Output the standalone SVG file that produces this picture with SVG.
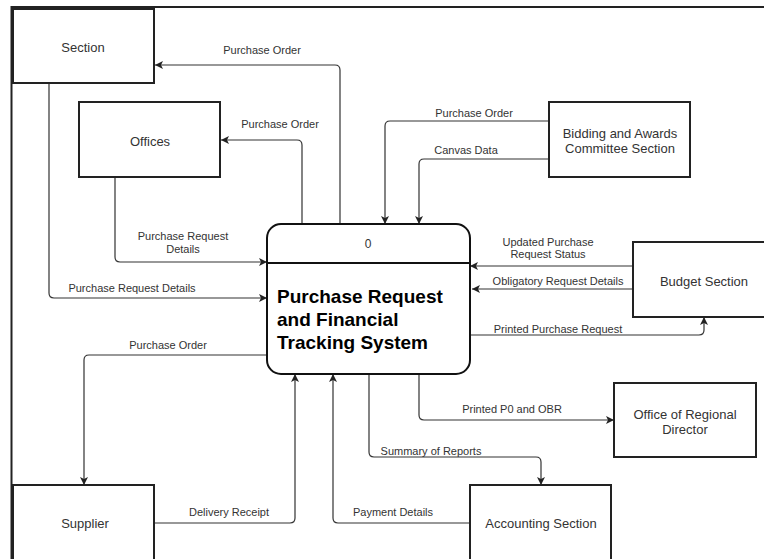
<svg xmlns="http://www.w3.org/2000/svg" width="764" height="559" viewBox="0 0 764 559">
<style>
.box{fill:#fff;stroke:#222;stroke-width:2}
.nt{font-family:"Liberation Sans",Arial,sans-serif;font-size:13px;fill:#333;text-anchor:middle}
.el{font-family:"Liberation Sans",Arial,sans-serif;font-size:11px;fill:#333;text-anchor:middle}
.c{fill:none;stroke:#333;stroke-width:1.2}
.ttl{font-family:"Liberation Sans",Arial,sans-serif;font-size:19px;font-weight:bold;fill:#000}
</style>
<defs>
<marker id="ah" viewBox="0 0 10 10" refX="10" refY="5" markerWidth="8" markerHeight="8" markerUnits="userSpaceOnUse" orient="auto">
<path d="M0,0 L10,5 L0,10 L2.5,5 Z" fill="#222"/>
</marker>
</defs>
<rect width="764" height="559" fill="#fff"/>
<path d="M11.5,559 V7 H764" fill="none" stroke="#222" stroke-width="2"/>
<g id="connectors">
<path class="c" marker-end="url(#ah)" d="M340,224 V70 Q340,65 335,65 H155"/>
<path class="c" marker-end="url(#ah)" d="M302,224 V145 Q302,140 297,140 H221"/>
<path class="c" marker-end="url(#ah)" d="M115,177 V257 Q115,262 120,262 H267"/>
<path class="c" marker-end="url(#ah)" d="M49,83 V293 Q49,298 54,298 H267"/>
<path class="c" marker-end="url(#ah)" d="M549,121 H390 Q385,121 385,126 V224"/>
<path class="c" marker-end="url(#ah)" d="M549,159 H424 Q419,159 419,164 V224"/>
<path class="c" marker-end="url(#ah)" d="M633,266 H470"/>
<path class="c" marker-end="url(#ah)" d="M633,289 H472"/>
<path class="c" marker-end="url(#ah)" d="M470,335 H699 Q704,335 704,330 V317"/>
<path class="c" marker-end="url(#ah)" d="M419,374 V415 Q419,420 424,420 H614"/>
<path class="c" marker-end="url(#ah)" d="M369,374 V452 Q369,457 374,457 H536 Q541,457 541,462 V485"/>
<path class="c" marker-end="url(#ah)" d="M470,523 H338 Q333,523 333,518 V374"/>
<path class="c" marker-end="url(#ah)" d="M154,523 H290 Q295,523 295,518 V374"/>
<path class="c" marker-end="url(#ah)" d="M267,355 H89 Q84,355 84,360 V485"/>
<text class="el" x="262" y="54">Purchase Order</text>
<text class="el" x="280" y="128">Purchase Order</text>
<text class="el" x="183" y="240">Purchase Request</text>
<text class="el" x="183" y="253">Details</text>
<text class="el" x="132" y="292">Purchase Request Details</text>
<text class="el" x="168" y="349">Purchase Order</text>
<text class="el" x="229" y="516">Delivery Receipt</text>
<text class="el" x="393" y="516">Payment Details</text>
<text class="el" x="431" y="455">Summary of Reports</text>
<text class="el" x="512" y="413">Printed P0 and OBR</text>
<text class="el" x="548" y="246">Updated Purchase</text>
<text class="el" x="548" y="258">Request Status</text>
<text class="el" x="558" y="285">Obligatory Request Details</text>
<text class="el" x="558" y="333">Printed Purchase Request</text>
<text class="el" x="474" y="117">Purchase Order</text>
<text class="el" x="466" y="154">Canvas Data</text>
</g>
<g id="section"><rect class="box" x="13" y="9" width="141" height="74"/><text class="nt" x="83" y="52">Section</text></g>
<g id="offices"><rect class="box" x="79" y="102" width="141" height="75"/><text class="nt" x="150" y="146">Offices</text></g>
<g id="bidding"><rect class="box" x="549" y="102" width="141" height="75"/><text class="nt" x="620" y="138">Bidding and Awards</text><text class="nt" x="620" y="153">Committee Section</text></g>
<g id="budget"><rect class="box" x="633" y="242" width="140" height="75"/><text class="nt" x="704" y="286">Budget Section</text></g>
<g id="ord"><rect class="box" x="614" y="383" width="142" height="74"/><text class="nt" x="685" y="419">Office of Regional</text><text class="nt" x="685" y="434">Director</text></g>
<g id="supplier"><rect class="box" x="13" y="485" width="141" height="90"/><text class="nt" x="85" y="528">Supplier</text></g>
<g id="accounting"><rect class="box" x="470" y="485" width="141" height="90"/><text class="nt" x="541" y="528">Accounting Section</text></g>
<g id="process">
<rect x="267" y="224" width="203" height="150" rx="14" ry="14" fill="#fff" stroke="#111" stroke-width="2"/>
<line x1="267" y1="263" x2="470" y2="263" stroke="#111" stroke-width="2"/>
<text class="el" x="368" y="248" style="font-size:12px">0</text>
<text class="ttl" x="277" y="303">Purchase Request</text>
<text class="ttl" x="277" y="326">and Financial</text>
<text class="ttl" x="277" y="349">Tracking System</text>
</g>
</svg>
